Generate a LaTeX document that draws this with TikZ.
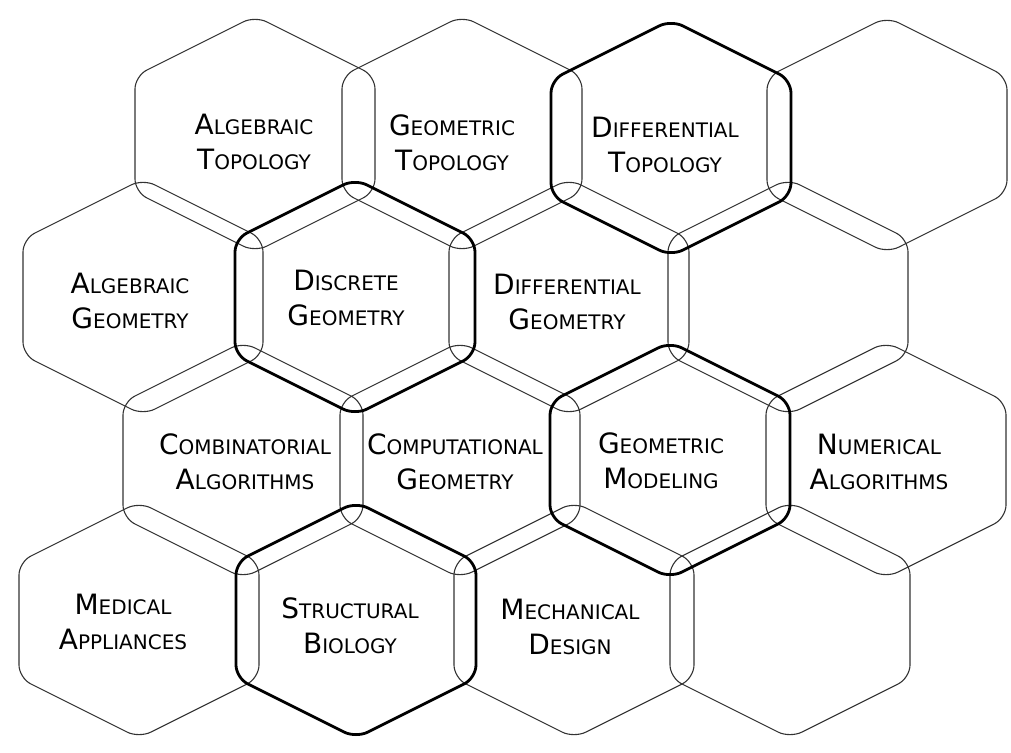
\documentclass[tikz,border=0pt]{standalone}
\usepackage{fontspec}
\setmainfont{DejaVu Sans}
\usetikzlibrary{positioning}

% large first letter, small capitals after it
\newcommand\hand[2]{{\fontsize{28}{35}\selectfont #1}#2}

\begin{document}
\begin{tikzpicture}[x=1pt, y=-1pt,
  hexa/.pic={\draw[rounded corners=13pt] (0,-118) -- (120,-58) -- (120,58) -- (0,118)
    -- (-120,58) -- (-120,-58) -- cycle;},
  plain/.style={line width=1.1pt, black!80},
  bold/.style={line width=2.8pt, black},
  field/.style={align=center, inner sep=0pt, text=black,
    font=\fontsize{20}{35}\selectfont}]
  \useasboundingbox (0,0) rectangle (1011,752);
  % thin hexagons
  \pic[plain] at (255,134) {hexa}; \pic[plain] at (462,134) {hexa}; \pic[plain] at (887,135) {hexa};
  \pic[plain] at (143,297) {hexa}; \pic[plain] at (569,297) {hexa}; \pic[plain] at (788,297) {hexa};
  \pic[plain] at (243,460) {hexa}; \pic[plain] at (460,460) {hexa}; \pic[plain] at (886,460) {hexa};
  \pic[plain] at (139,620) {hexa}; \pic[plain] at (574,620) {hexa}; \pic[plain] at (790,620) {hexa};
  % highlighted hexagons
  \pic[bold] at (671,138) {hexa}; \pic[bold] at (355,297) {hexa};
  \pic[bold] at (670,460) {hexa}; \pic[bold] at (356,620) {hexa};
  % labels
  \node[field] (algtop) at (254,142) {\hand{A}{LGEBRAIC}\\\hand{T}{OPOLOGY}};
  \node[field] (geotop) at (452,143) {\hand{G}{EOMETRIC}\\\hand{T}{OPOLOGY}};
  \node[field] (difftop) at (665,145) {\hand{D}{IFFERENTIAL}\\\hand{T}{OPOLOGY}};
  \node[field] (alggeo) at (130,301) {\hand{A}{LGEBRAIC}\\\hand{G}{EOMETRY}};
  \node[field] (discgeo) at (346,298) {\hand{D}{ISCRETE}\\\hand{G}{EOMETRY}};
  \node[field] (diffgeo) at (567,302) {\hand{D}{IFFERENTIAL}\\\hand{G}{EOMETRY}};
  \node[field] (combalg) at (245,462) {\hand{C}{OMBINATORIAL}\\\hand{A}{LGORITHMS}};
  \node[field] (compgeo) at (455,462) {\hand{C}{OMPUTATIONAL}\\\hand{G}{EOMETRY}};
  \node[field] (geomod) at (661,461) {\hand{G}{EOMETRIC}\\\hand{M}{ODELING}};
  \node[field] (numalg) at (879,462) {\hand{N}{UMERICAL}\\\hand{A}{LGORITHMS}};
  \node[field] (medapp) at (123,622) {\hand{M}{EDICAL}\\\hand{A}{PPLIANCES}};
  \node[field] (strbio) at (350,626) {\hand{S}{TRUCTURAL}\\\hand{B}{IOLOGY}};
  \node[field] (mechdes) at (570,627) {\hand{M}{ECHANICAL}\\\hand{D}{ESIGN}};
\end{tikzpicture}
\end{document}
